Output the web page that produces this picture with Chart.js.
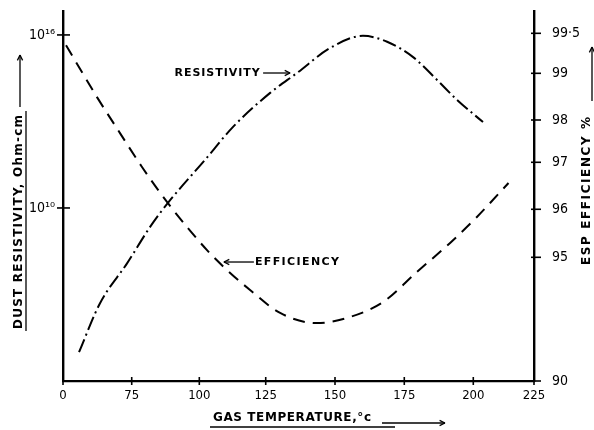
<!DOCTYPE html>
<html><head><meta charset="utf-8">
<script src="https://cdn.jsdelivr.net/npm/chart.js@4/dist/chart.umd.min.js"></script>
<style>html,body{margin:0;padding:0;background:#fff}canvas{display:block}</style>
</head><body>
<canvas id="c" width="594" height="430"></canvas>
<script>
// ---- data ----
const resTemp  = [17.5, 40.4, 69.9, 81.8, 88.4, 102.1, 112.7, 126.6, 136.3, 148.2, 160.1, 168.8, 178.2, 186.8, 194.1, 204.0];
const resValue = [1.0e5, 5.0e6, 1.2e8, 2.2e9, 1.5e10, 4.6e11, 6.5e12, 9.8e13, 4.8e14, 3.5e15, 9.3e15, 5.8e15, 1.7e15, 2.8e14, 5.6e13, 9.5e12];
const effTemp  = [3.3, 37.1, 62.2, 78.8, 88.4, 102.9, 110.4, 119.1, 130.2, 143.5, 154.3, 167.3, 179.6, 191.6, 201.5, 214.5];
const effValue = [99.35, 98.49, 97.69, 96.90, 96.13, 95.15, 94.49, 93.68, 92.75, 92.34, 92.55, 93.19, 94.41, 95.30, 95.84, 96.56];
const tempTicks = [0, 75, 100, 125, 150, 175, 200, 225];
const tempTickLabels = ['0', '75', '100', '125', '150', '175', '200', '225'];
const resTicks = [1e10, 1e16];
const resTickLabels = ['10\u00B9\u2070', '10\u00B9\u2076'];
const effTicks = [90, 95, 96, 97, 98, 99, 99.5];
const effTickLabels = ['90', '95', '96', '97', '98', '99', '99\u00B75'];

// hand-drawn (broken / uneven) axis calibration: value -> fraction of axis length
const xAxisBreaks   = { values: [0, 75, 100, 125, 150, 175, 200, 225], fractions: [0, 0.1459, 0.2894, 0.4304, 0.5775, 0.7246, 0.8711, 1] };
const effAxisBreaks = { values: [90, 95, 96, 97, 98, 99, 99.5, 99.8], fractions: [0, 0.3343, 0.4641, 0.5911, 0.7054, 0.8316, 0.9397, 1] };
const AXIS_BREAKS = { x: xAxisBreaks, yE: effAxisBreaks };

class PiecewiseScale extends Chart.LinearScale {
  static id = 'piecewise';
  static defaults = {};
  _toDecimal(v) {
    const b = AXIS_BREAKS[this.id], V = b.values, F = b.fractions, n = V.length;
    let i = 1;
    while (i < n - 1 && v > V[i]) i++;
    return F[i - 1] + (v - V[i - 1]) / (V[i] - V[i - 1]) * (F[i] - F[i - 1]);
  }
  getPixelForValue(v) {
    if (v === null || v === undefined || isNaN(v)) return NaN;
    return this.getPixelForDecimal(this._toDecimal(v));
  }
  getValueForPixel(p) {
    const d = this.getDecimalForPixel(p);
    const b = AXIS_BREAKS[this.id], V = b.values, F = b.fractions, n = V.length;
    let i = 1;
    while (i < n - 1 && d > F[i]) i++;
    return V[i - 1] + (d - F[i - 1]) / (F[i] - F[i - 1]) * (V[i] - V[i - 1]);
  }
}
Chart.register(PiecewiseScale);

const FONT = '"DejaVu Sans Condensed", "DejaVu Sans", sans-serif';
const TEXT_FONT = '"DejaVu Sans", sans-serif';

function spacedText(ctx, text, cx, cy, targetW) {
  ctx.letterSpacing = '0px';
  const w0 = ctx.measureText(text).width;
  const ls = Math.max(0, (targetW - w0) / Math.max(1, text.length - 1));
  ctx.letterSpacing = ls + 'px';
  const w = ctx.measureText(text).width - ls;
  ctx.textAlign = 'left';
  ctx.textBaseline = 'middle';
  ctx.fillText(text, cx - w / 2, cy);
  ctx.letterSpacing = '0px';
  return w;
}
function line(ctx, x1, y1, x2, y2) { ctx.beginPath(); ctx.moveTo(x1, y1); ctx.lineTo(x2, y2); ctx.stroke(); }
function arrow(ctx, x1, y1, x2, y2) {
  line(ctx, x1, y1, x2, y2);
  const a = Math.atan2(y2 - y1, x2 - x1), h = 6, s = 0.45;
  line(ctx, x2, y2, x2 - h * Math.cos(a - s), y2 - h * Math.sin(a - s));
  line(ctx, x2, y2, x2 - h * Math.cos(a + s), y2 - h * Math.sin(a + s));
}

const decorPlugin = {
  id: 'decor',
  afterDraw(chart) {
    const { ctx, chartArea: a, scales } = chart;
    ctx.save();
    ctx.strokeStyle = '#000';
    ctx.fillStyle = '#000';
    // tick marks crossing the axes
    ctx.lineWidth = 1.6;
    scales.x.ticks.forEach(t => { const px = scales.x.getPixelForValue(t.value); line(ctx, px, a.bottom - 4, px, a.bottom + 4); });
    scales.yR.ticks.forEach(t => { const py = scales.yR.getPixelForValue(t.value); line(ctx, a.left - 6, py, a.left + 7, py); });
    scales.yE.ticks.forEach(t => { const py = scales.yE.getPixelForValue(t.value); line(ctx, a.right - 3, py, a.right + 7, py); });

    ctx.lineWidth = 1.3;
    // x title
    ctx.font = 'bold 12px ' + TEXT_FONT;
    spacedText(ctx, 'GAS TEMPERATURE,\u00B0c', 292, 418, 158);
    line(ctx, 210, 427, 395, 427);
    arrow(ctx, 382, 423, 445, 423);

    // left title (rotated)
    ctx.save();
    ctx.translate(19, 222);
    ctx.rotate(-Math.PI / 2);
    ctx.font = 'bold 12px ' + TEXT_FONT;
    const lw = spacedText(ctx, 'DUST RESISTIVITY, Ohm-cm', 0, 0, 214);
    line(ctx, -lw / 2 - 2, 7, lw / 2 + 4, 7);
    arrow(ctx, lw / 2 + 8, 1, lw / 2 + 60, 1);
    ctx.restore();

    // right title (rotated)
    ctx.save();
    ctx.translate(587, 191);
    ctx.rotate(-Math.PI / 2);
    ctx.font = 'bold 12px ' + TEXT_FONT;
    const rw = spacedText(ctx, 'ESP EFFICIENCY %', 0, 0, 148);
    arrow(ctx, rw / 2 + 16, 5, rw / 2 + 70, 5);
    ctx.restore();

    // curve labels anchored to data positions
    ctx.font = 'bold 11px ' + TEXT_FONT;
    const rx = scales.x.getPixelForValue(133.8), ry = scales.yR.getPixelForValue(Math.pow(10, 14.68));
    arrow(ctx, rx - 27, ry, rx, ry);
    spacedText(ctx, 'RESISTIVITY', rx - 30 - 43, ry, 85);
    const ex = scales.x.getPixelForValue(108.5), ey = scales.yE.getPixelForValue(94.81);
    arrow(ctx, ex + 32, ey, ex + 2, ey);
    spacedText(ctx, 'EFFICIENCY', ex + 33 + 42, ey, 84);
    ctx.restore();
  }
};

const tickFont = (size) => ({ family: FONT, size: size });
const noPad = s => { s.paddingTop = 0; s.paddingBottom = 0; s.paddingLeft = 0; s.paddingRight = 0; };

new Chart(document.getElementById('c'), {
  type: 'line',
  data: {
    datasets: [
      {
        label: 'Resistivity',
        data: resTemp.map((t, i) => ({ x: t, y: resValue[i] })),
        xAxisID: 'x', yAxisID: 'yR',
        borderColor: '#000', borderWidth: 2, borderDash: [14, 4, 2, 4],
        pointRadius: 0, cubicInterpolationMode: 'monotone', fill: false
      },
      {
        label: 'Efficiency',
        data: effTemp.map((t, i) => ({ x: t, y: effValue[i] })),
        xAxisID: 'x', yAxisID: 'yE',
        borderColor: '#000', borderWidth: 2, borderDash: [12, 8],
        pointRadius: 0, cubicInterpolationMode: 'monotone', fill: false
      }
    ]
  },
  options: {
    responsive: false, animation: false, devicePixelRatio: 1,
    layout: { padding: { top: 11, left: 0, right: 0, bottom: 0 } },
    plugins: { legend: { display: false }, tooltip: { enabled: false }, title: { display: false } },
    scales: {
      x: {
        type: 'piecewise', position: 'bottom', min: 0, max: 225, bounds: 'data',
        afterBuildTicks: s => { s.ticks = tempTicks.map(v => ({ value: v })); },
        afterFit: s => { s.height = 49; noPad(s); },
        grid: { display: false, drawTicks: false },
        border: { display: true, color: '#000', width: 2.2 },
        ticks: { autoSkip: false, maxRotation: 0, minRotation: 0, padding: 7, color: '#000', font: tickFont(13),
                 callback: v => tempTickLabels[tempTicks.indexOf(v)] }
      },
      yR: {
        type: 'logarithmic', position: 'left', min: 1e4, max: Math.pow(10, 16.83), bounds: 'data',
        afterBuildTicks: s => { s.ticks = resTicks.map(v => ({ value: v })); },
        afterFit: s => { s.width = 63; noPad(s); },
        grid: { display: false, drawTicks: false },
        border: { display: true, color: '#000', width: 2.4 },
        ticks: { padding: 8, color: '#000', font: tickFont(14),
                 callback: v => resTickLabels[resTicks.indexOf(v)] }
      },
      yE: {
        type: 'piecewise', position: 'right', min: 90, max: 99.8, bounds: 'data',
        afterBuildTicks: s => { s.ticks = effTicks.map(v => ({ value: v })); },
        afterFit: s => { s.width = 60; noPad(s); },
        grid: { display: false, drawTicks: false },
        border: { display: true, color: '#000', width: 2.4 },
        ticks: { padding: 18, color: '#000', font: tickFont(14),
                 callback: v => effTickLabels[effTicks.indexOf(v)] }
      }
    }
  },
  plugins: [decorPlugin]
});
</script>
</body></html>
